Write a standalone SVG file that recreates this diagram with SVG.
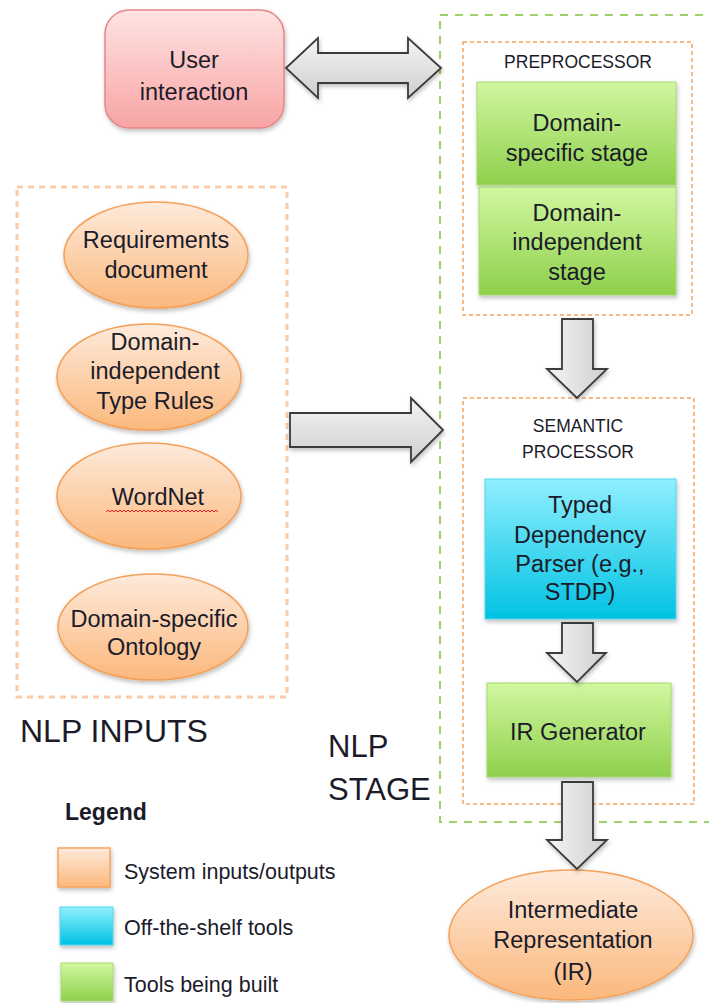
<svg xmlns="http://www.w3.org/2000/svg" width="709" height="1003" viewBox="0 0 709 1003">
<defs>
<linearGradient id="gPink" x1="0" y1="0" x2="0" y2="1"><stop offset="0" stop-color="#ffe3e3"/><stop offset="1" stop-color="#f8a4a4"/></linearGradient>
<linearGradient id="gOrange" x1="0" y1="0" x2="0" y2="1"><stop offset="0" stop-color="#feeadb"/><stop offset="1" stop-color="#fbb87c"/></linearGradient>
<linearGradient id="gGreen" x1="0" y1="0" x2="0" y2="1"><stop offset="0" stop-color="#d2f7a0"/><stop offset="1" stop-color="#8ed04c"/></linearGradient>
<linearGradient id="gCyan" x1="0" y1="0" x2="0" y2="1"><stop offset="0" stop-color="#90effe"/><stop offset="1" stop-color="#00c2e2"/></linearGradient>
<linearGradient id="gGreyH" x1="0" y1="0" x2="0" y2="1"><stop offset="0" stop-color="#f4f4f4"/><stop offset="1" stop-color="#cfcfcf"/></linearGradient>
<linearGradient id="gGreyV" x1="0" y1="0" x2="1" y2="0"><stop offset="0" stop-color="#f4f4f4"/><stop offset="1" stop-color="#cfcfcf"/></linearGradient>
<filter id="sh" x="-10%" y="-10%" width="125%" height="130%"><feDropShadow dx="1" dy="2.5" stdDeviation="2" flood-color="#000" flood-opacity="0.25"/></filter>
</defs>
<style>
text{font-family:"Liberation Sans",Arial,sans-serif;fill:#1b1b2a;text-anchor:middle}
.b{font-size:23.5px}
.h{font-size:17.5px}
.big{font-size:32px;text-anchor:start}
.stg{font-size:31px;text-anchor:start}
.lg{font-size:21.5px;text-anchor:start}
.arrow{stroke:#3a3a3a;stroke-width:1.8;stroke-linejoin:miter;filter:url(#sh)}
.ell{fill:url(#gOrange);stroke:#f4a058;stroke-width:1.5;filter:url(#sh)}
.grn{fill:url(#gGreen);stroke:#a6d86e;stroke-width:1;filter:url(#sh)}
.dashO{fill:none;stroke:#f7a35c;stroke-width:1.5;stroke-dasharray:4 3}
</style>

<g id="nlp-stage">
<rect x="440" y="15" width="280" height="807" fill="none" stroke="#9fd06a" stroke-width="2" stroke-dasharray="8 7"/>
<text class="stg" x="328" y="757">NLP</text>
<text class="stg" x="328" y="800">STAGE</text>
</g>

<g id="nlp-inputs">
<rect x="17" y="187" width="270" height="510" fill="none" stroke="#f9cba8" stroke-width="3" stroke-dasharray="6 5"/>
<text class="big" x="20" y="742">NLP INPUTS</text>
</g>

<g id="user-interaction">
<rect x="105" y="10" width="179" height="118" rx="24" fill="url(#gPink)" stroke="#e58686" stroke-width="1.5" filter="url(#sh)"/>
<text class="b" x="194" y="68">User</text>
<text class="b" x="194" y="100">interaction</text>
</g>

<g id="requirements-document">
<ellipse class="ell" cx="156" cy="255" rx="92" ry="53"/>
<text class="b" x="156" y="248">Requirements</text>
<text class="b" x="156" y="278">document</text>
</g>

<g id="type-rules">
<ellipse class="ell" cx="149" cy="377" rx="92" ry="53"/>
<text class="b" x="155" y="350">Domain-</text>
<text class="b" x="155" y="379">independent</text>
<text class="b" x="155" y="409">Type Rules</text>
</g>

<g id="wordnet">
<ellipse class="ell" cx="149" cy="496" rx="92" ry="53"/>
<text class="b" x="158" y="505">WordNet</text>
<path d="M106,512 l2,-2 l2,2 l2,-2 l2,2 l2,-2 l2,2 l2,-2 l2,2 l2,-2 l2,2 l2,-2 l2,2 l2,-2 l2,2 l2,-2 l2,2 l2,-2 l2,2 l2,-2 l2,2 l2,-2 l2,2 l2,-2 l2,2 l2,-2 l2,2 l2,-2 l2,2 l2,-2 l2,2 l2,-2 l2,2 l2,-2 l2,2 l2,-2 l2,2 l2,-2 l2,2 l2,-2 l2,2 l2,-2 l2,2 l2,-2 l2,2 l2,-2 l2,2 l2,-2 l2,2 l2,-2 l2,2 l2,-2 l2,2 l2,-2 l2,2 l2,-2 l2,2" fill="none" stroke="#e02020" stroke-width="1"/>
</g>

<g id="domain-ontology">
<ellipse class="ell" cx="153" cy="627" rx="95" ry="53"/>
<text class="b" x="154" y="627">Domain-specific</text>
<text class="b" x="154" y="655">Ontology</text>
</g>

<g id="preprocessor">
<rect class="dashO" x="463" y="42" width="229" height="273"/>
<text class="h" x="578" y="68">PREPROCESSOR</text>
</g>

<g id="domain-specific-stage">
<rect class="grn" x="477" y="82" width="199" height="103"/>
<text class="b" x="577" y="131">Domain-</text>
<text class="b" x="577" y="161">specific stage</text>
</g>

<g id="domain-independent-stage">
<rect class="grn" x="479" y="187" width="197" height="108"/>
<text class="b" x="577" y="221">Domain-</text>
<text class="b" x="577" y="250">independent</text>
<text class="b" x="577" y="280">stage</text>
</g>

<g id="semantic-processor">
<rect class="dashO" x="463" y="398" width="231" height="406"/>
<text class="h" x="578" y="432">SEMANTIC</text>
<text class="h" x="578" y="458">PROCESSOR</text>
</g>

<g id="typed-dependency-parser">
<rect x="485" y="479" width="191" height="140" fill="url(#gCyan)" stroke="#55d4ee" stroke-width="1" filter="url(#sh)"/>
<text class="b" x="580" y="513">Typed</text>
<text class="b" x="580" y="543">Dependency</text>
<text class="b" x="580" y="572">Parser (e.g.,</text>
<text class="b" x="580" y="600">STDP)</text>
</g>

<g id="ir-generator">
<rect class="grn" x="487" y="683" width="184" height="94"/>
<text class="b" x="578" y="740">IR Generator</text>
</g>

<g id="intermediate-representation">
<ellipse class="ell" cx="571" cy="935" rx="122" ry="65"/>
<text class="b" x="573" y="918">Intermediate</text>
<text class="b" x="573" y="948">Representation</text>
<text class="b" x="573" y="980">(IR)</text>
</g>

<g id="connectors">
<path class="arrow" fill="url(#gGreyH)" d="M286,68 L318,38 L318,53 L408,53 L408,38 L441,68 L408,98 L408,83 L318,83 L318,98 Z"/>
<path class="arrow" fill="url(#gGreyH)" d="M290,413 L411,413 L411,398 L443,430 L411,462 L411,447 L290,447 Z"/>
<path class="arrow" fill="url(#gGreyV)" d="M562,319 L593,319 L593,369 L607,369 L577,398 L547,369 L562,369 Z"/>
<path class="arrow" fill="url(#gGreyV)" d="M562,623 L593,623 L593,653 L606,653 L577,682 L547,653 L562,653 Z"/>
<path class="arrow" fill="url(#gGreyV)" d="M562,782 L593,782 L593,840 L607,840 L577,869 L547,840 L562,840 Z"/>
</g>

<g id="legend">
<text x="65" y="820" style="font-size:23px;font-weight:bold;text-anchor:start">Legend</text>
<rect x="58" y="848" width="52" height="39" fill="url(#gOrange)" stroke="#f7a35c" stroke-width="1.5" filter="url(#sh)"/>
<text class="lg" x="124" y="879">System inputs/outputs</text>
<rect x="60" y="907" width="53" height="38" fill="url(#gCyan)" stroke="#55d4ee" stroke-width="1" filter="url(#sh)"/>
<text class="lg" x="124" y="935">Off-the-shelf tools</text>
<rect x="61" y="963" width="52" height="38" fill="url(#gGreen)" stroke="#a6d86e" stroke-width="1" filter="url(#sh)"/>
<text class="lg" x="124" y="992">Tools being built</text>
</g>
</svg>
